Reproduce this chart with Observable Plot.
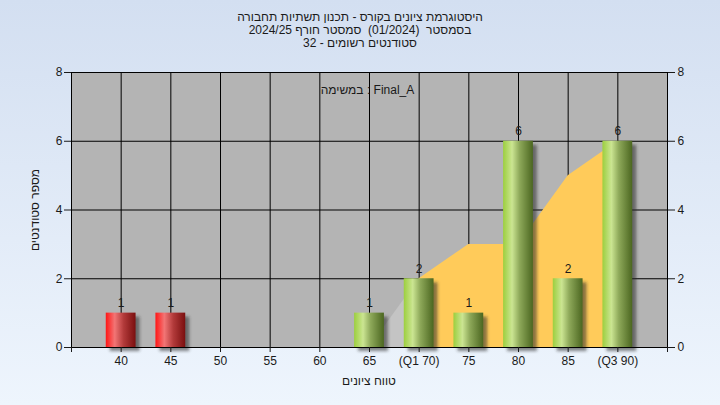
<!DOCTYPE html>
<html><head><meta charset="utf-8">
<script src="https://cdn.jsdelivr.net/npm/d3@7"></script>
<script src="https://cdn.jsdelivr.net/npm/@observablehq/plot@0.6"></script>
<style>
html,body{margin:0;padding:0;}
#wrap{position:relative;width:720px;height:405px;background:linear-gradient(to bottom,#d3dff1,#eef5fd);overflow:hidden;font-family:"Liberation Sans",Arial,sans-serif;}
.title{position:absolute;left:0;width:720px;text-align:center;font-size:12px;color:#1a1a1a;direction:rtl;line-height:12px;height:12px;white-space:pre;}
.axlab{position:absolute;font-size:12px;color:#1a1a1a;line-height:12px;white-space:pre;}
#chart{position:absolute;left:0;top:0;}
</style></head><body>
<div id="wrap">
<div id="chart"></div>
<div class="title" style="top:11px">היסטוגרמת ציונים בקורס - תכנון תשתיות תחבורה</div>
<div class="title" style="top:24px">בסמסטר  (01/2024)  סמסטר חורף 2024/25</div>
<div class="title" style="top:37px">סטודנטים רשומים - 32</div>
<div class="axlab" id="xlab" style="left:269px;width:200px;top:375px;text-align:center;"></div>
<div class="axlab" id="ylab" style="left:-65px;width:200px;top:204px;text-align:center;transform:rotate(-90deg);"></div>
</div>
<script>
// data
const grades = [40, 45, 50, 55, 60, 65, 70, 75, 80, 85, 90];
const tickLabels = ["40", "45", "50", "55", "60", "65", "(Q1 70)", "75", "80", "85", "(Q3 90)"];
const counts = [1, 1, 0, 0, 0, 1, 2, 1, 6, 2, 6];
const failGrades = [40, 45];
const belowQ1Grades = [65, 70];
const belowQ1Values = [0, 2];
const quartileGrades = [70, 75, 80, 85, 90];
const quartileValues = [2, 3, 3, 5, 6];
const yTicks = [0, 2, 4, 6, 8];
const annotation = "במשימה : Final_A";
const xLabel = "טווח ציונים";
const yLabel = "מספר סטודנטים";

document.getElementById("xlab").textContent = xLabel;
document.getElementById("ylab").textContent = yLabel;

const bars = grades.map((g, i) => ({grade: g, count: counts[i]})).filter(d => d.count > 0);
const redBars = bars.filter(d => failGrades.includes(d.grade));
const greenBars = bars.filter(d => !failGrades.includes(d.grade));
const grayArea = belowQ1Grades.map((g, i) => ({grade: g, v: belowQ1Values[i]}));
const yellowArea = quartileGrades.map((g, i) => ({grade: g, v: quartileValues[i]}));
const labelMap = new Map(grades.map((g, i) => [g, tickLabels[i]]));
const halfW = 1.5;

const plot = Plot.plot({
  width: 720,
  height: 405,
  marginLeft: 71,
  marginRight: 53,
  marginTop: 72,
  marginBottom: 58,
  style: {background: "transparent", fontFamily: "'Liberation Sans', Arial, sans-serif", fontSize: "12px", color: "#1a1a1a"},
  x: {domain: [35, 95]},
  y: {domain: [0, 8]},
  marks: [
    Plot.frame({fill: "#b4b4b4", stroke: null}),
    Plot.ruleX(grades, {stroke: "#000", strokeWidth: 1}),
    Plot.ruleY(yTicks, {stroke: "#000", strokeWidth: 1}),
    Plot.areaY(grayArea, {x: "grade", y: "v", fill: "#c4c4c4"}),
    Plot.areaY(yellowArea, {x: "grade", y: "v", fill: "#ffcb5a"}),
    Plot.rectY(bars, {x1: d => d.grade - halfW, x2: d => d.grade + halfW, y: "count", dx: 4, dy: 4, fill: "#2a2a2a", fillOpacity: 0.55}),
    Plot.rectY(redBars, {x1: d => d.grade - halfW, x2: d => d.grade + halfW, y: "count", fill: "url(#gRed)"}),
    Plot.rectY(greenBars, {x1: d => d.grade - halfW, x2: d => d.grade + halfW, y: "count", fill: "url(#gGreen)"}),
    Plot.text(bars, {x: "grade", y: "count", text: "count", dy: -10, fontSize: 12, fill: "#1a1a1a"}),
    Plot.text([annotation], {frameAnchor: "top", dy: 13, dx: -2, fontSize: 12, fill: "#1a1a1a"}),
    Plot.frame({stroke: "#000", strokeWidth: 1}),
    Plot.axisX({ticks: [35, ...grades, 95], tickFormat: d => labelMap.get(d) ?? "", tickSize: 5, tickPadding: 4, label: null, fontSize: 12}),
    Plot.axisY({anchor: "left", ticks: yTicks, tickSize: 7, tickPadding: 2, label: null, fontSize: 12}),
    Plot.axisY({anchor: "right", ticks: yTicks, tickSize: 7, tickPadding: 3, label: null, fontSize: 12})
  ]
});

const svg = d3.select(plot);
const defs = svg.insert("defs", ":first-child");
const gg = defs.append("linearGradient").attr("id", "gGreen").attr("x1", 0).attr("x2", 1).attr("y1", 0).attr("y2", 0);
[["0%", "#9ccf3e"], ["30%", "#cbe592"], ["55%", "#8ea95a"], ["100%", "#4b6620"]].forEach(([o, c]) => gg.append("stop").attr("offset", o).attr("stop-color", c));
const gr = defs.append("linearGradient").attr("id", "gRed").attr("x1", 0).attr("x2", 1).attr("y1", 0).attr("y2", 0);
[["0%", "#ff1616"], ["30%", "#f27575"], ["60%", "#b23a3a"], ["100%", "#7a0f0f"]].forEach(([o, c]) => gr.append("stop").attr("offset", o).attr("stop-color", c));
const f = defs.append("filter").attr("id", "blur").attr("x", "-20%").attr("y", "-20%").attr("width", "140%").attr("height", "140%");
f.append("feGaussianBlur").attr("stdDeviation", 1.6);
svg.selectAll("g[aria-label='rect']").filter((d, i) => i === 0).attr("filter", "url(#blur)");
svg.selectAll("text").attr("fill", "#1a1a1a");

document.getElementById("chart").appendChild(plot);
</script>
</body></html>
